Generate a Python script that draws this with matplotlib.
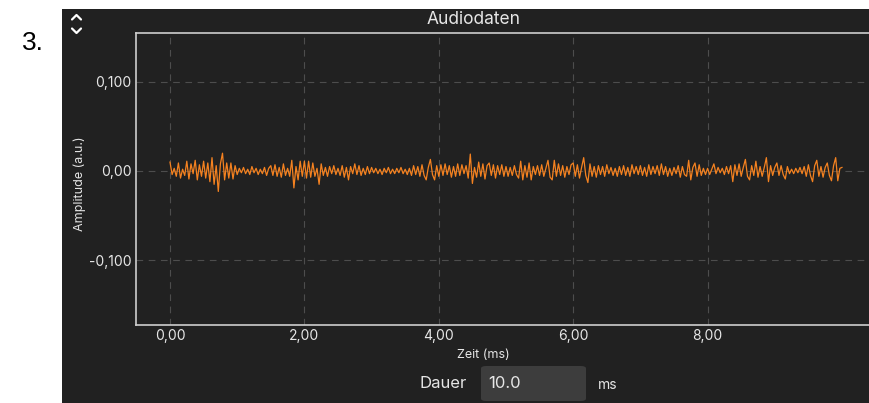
import numpy as np
import matplotlib
matplotlib.use("Agg")
import matplotlib.pyplot as plt
from matplotlib.patches import Rectangle, FancyBboxPatch
from matplotlib.lines import Line2D

# audio samples in thousandths (a.u.), 32 per ms
samples_milli = [
    10, -4, 3, -6, 9, -8, 2, -5, 11, -9, 8, -3, 12, -10, 7, -6, 11, -8, 9, -12, 15, -15, 6, -23, 8, 20, -10, 9, -8, 9, -9, 6,
    -4, 3, -2, 4, -3, 2, -4, 5, -2, 3, -4, 2, -3, 4, -5, 3, 6, -5, 7, -6, 4, -7, 8, -5, 3, -6, 12, -19, 5, -10, 11, -6,
    11, -8, 11, -7, 9, -6, 3, -15, 8, -5, 4, -6, 5, -3, 6, -4, 3, -5, 6, -7, 4, -10, 5, -3, 8, -4, 6, -5, 3, -4, 5, -3,
    4, -2, 3, -3, 2, -4, 3, -2, 4, -3, 2, -3, 3, -2, 4, -3, 2, -4, 3, -5, 6, -4, 5, -6, 7, -5, -10, 4, 13, -4, -10, 6,
    -6, 7, -5, 8, -4, 6, -7, 5, -6, 8, -5, 7, -3, 6, -8, 19, -14, 4, -7, 10, -6, 8, -9, 6, 9, -5, 7, -8, 6, -4, 7, -6,
    5, -6, 4, -5, 6, -4, -8, 11, -10, 6, -7, 9, -10, 5, -4, 6, -5, 7, -6, 3, 12, -7, -10, 12, -6, 8, -5, 6, -7, 5, -4, 7,
    9, -6, 7, -8, 4, 15, -5, -13, 8, -6, 5, -7, 6, -4, 5, -6, 7, -3, 4, -5, 3, -6, 5, -4, 6, -5, 4, -6, 7, -3, 5, -4,
    6, -5, 4, -6, 7, -4, 5, -3, 6, -5, 8, -4, 5, -6, 3, -5, 4, -3, 6, -7, 5, -4, -6, 12, -10, 4, 9, -6, 7, -5, 3, -4,
    3, -4, 2, 8, -3, 4, -2, 3, -4, 5, -3, 6, -12, 7, -5, 8, -6, 4, 13, -6, -10, 6, -5, 11, -7, 5, -6, 4, 15, -12, 6, -5,
    4, 9, -5, 6, -4, -9, 5, -3, 2, -3, 3, -2, 4, -3, 5, -6, 7, -5, -12, 6, 12, -6, 5, -7, 4, 9, -5, -11, 6, 15, -11, 3,
    4,
]
duration_ms = 10.0
x_ticks = [0, 2, 4, 6, 8]
x_labels = ["0,00", "2,00", "4,00", "6,00", "8,00"]
y_ticks = [-0.1, 0.0, 0.1]
y_labels = ["-0,100", "0,00", "0,100"]

amp = np.array(samples_milli) / 1000.0
t = np.linspace(0, duration_ms, len(amp))

bg = "#212121"
fg = "#e6e6e6"
plt.rcParams['font.family'] = ['Inter', 'DejaVu Sans']

fig = plt.figure(figsize=(8.7, 4.03), dpi=100)
fig.patch.set_facecolor("white")
W, H = 870, 403

def fx(px):
    return px / W

def fy(py):
    return 1 - py / H

# dark widget panel
fig.patches.append(Rectangle((fx(62), 0), 1 - fx(62), fy(9), transform=fig.transFigure,
                             facecolor=bg, edgecolor="none", zorder=-5))

ax = fig.add_axes([fx(136), fy(325), 1 - fx(136), fy(33) - fy(325)])
ax.set_zorder(5)
ax.set_facecolor(bg)
ax.plot(t, amp, color="#f58220", lw=0.9)
ax.set_xlim(-0.506, 10.417)
ax.set_ylim(-0.173, 0.155)
ax.set_xticks(x_ticks)
ax.set_xticklabels(x_labels)
ax.set_yticks(y_ticks)
ax.set_yticklabels(y_labels)
ax.tick_params(length=0, pad=3, colors=fg, labelsize=10)
ax.grid(True, color="#4d4d4d", linestyle=(0, (6, 5)), lw=0.8)
for s in ["left", "top", "bottom"]:
    ax.spines[s].set_color("#cfcfcf")
    ax.spines[s].set_linewidth(1.2)
ax.spines["right"].set_visible(False)

fig.text(fx(474), fy(19), "Audiodaten", color=fg, fontsize=12.5, ha="center", va="center")
fig.text(fx(80), fy(184), "Amplitude (a.u.)", color=fg, fontsize=9, rotation=90,
         ha="center", va="center")
fig.text(fx(483), fy(355), "Zeit (ms)", color=fg, fontsize=9, ha="center", va="center")

# "Dauer" input row
fig.text(fx(443), fy(384), "Dauer", color=fg, fontsize=12, ha="center", va="center")
fig.patches.append(FancyBboxPatch((fx(481), fy(401)), fx(586) - fx(481), fy(366) - fy(401),
                                  boxstyle="round,pad=0,rounding_size=0.006",
                                  transform=fig.transFigure, facecolor="#3d3d3d",
                                  edgecolor="none", zorder=1))
fig.text(fx(488), fy(384), "10.0", color=fg, fontsize=12, ha="left", va="center")
fig.text(fx(598), fy(385), "ms", color=fg, fontsize=10, ha="left", va="center")

# up/down chevrons
fig.lines.append(Line2D([fx(72), fx(76.5), fx(81)], [fy(19.5), fy(15), fy(19.5)],
                        transform=fig.transFigure, color="white", lw=1.6,
                        solid_capstyle="round", solid_joinstyle="round"))
fig.lines.append(Line2D([fx(72), fx(76.5), fx(81)], [fy(28.5), fy(33), fy(28.5)],
                        transform=fig.transFigure, color="white", lw=1.6,
                        solid_capstyle="round", solid_joinstyle="round"))

fig.text(fx(22), fy(50), "3.", color="black", fontsize=19, family="Liberation Sans",
         ha="left", va="baseline")

fig.savefig("out.png", dpi=100, facecolor=fig.get_facecolor())
